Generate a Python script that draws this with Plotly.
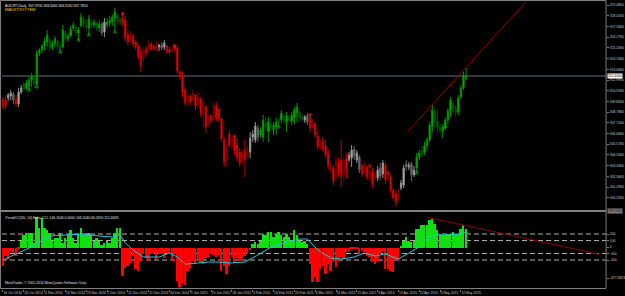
import plotly.graph_objects as go

# ---------------- data ----------------
dates = ["16 Oct 2014", "26 Oct 2014", "4 Nov 2014", "13 Nov 2014", "23 Nov 2014", "2 Dec 2014",
         "11 Dec 2014", "21 Dec 2014", "30 Dec 2014", "9 Jan 2015", "19 Jan 2015", "28 Jan 2015",
         "6 Feb 2015", "16 Feb 2015", "25 Feb 2015", "6 Mar 2015", "16 Mar 2015", "25 Mar 2015",
         "3 Apr 2015", "13 Apr 2015", "22 Apr 2015", "3 May 2015", "12 May 2015"]
date_bars = [0, 8, 16, 24, 32, 40, 48, 56, 64, 72, 80, 88, 96, 104, 112, 120, 128, 136, 144, 152, 160, 168, 176]

opens = [
    310.1, 310.0, 310.2, 310.4, 310.6, 310.1, 309.6, 310.8, 311.6, 311.2,
    311.4, 312.0, 312.3, 311.6, 314.7, 315.0, 315.4, 315.8, 316.0, 315.3,
    315.6, 315.9, 315.3, 315.3, 316.8, 316.1, 316.5, 317.2, 317.3, 316.7,
    317.4, 318.1, 317.5, 317.2, 317.8, 317.5, 317.7, 317.2, 317.6, 316.8,
    317.5, 317.7, 317.9, 318.2, 318.5, 318.0, 318.2, 318.0, 316.5, 316.1,
    316.4, 315.8, 315.4, 314.8, 314.2, 315.1, 315.0, 315.6, 315.4, 315.0,
    315.3, 315.5, 315.3, 315.4, 315.1, 314.9, 315.4, 315.2, 312.8, 312.4,
    311.0, 309.6, 310.4, 310.0, 310.5, 309.5, 310.1, 308.6, 309.3, 307.6,
    308.4, 308.0, 309.4, 308.8, 308.1, 306.0, 304.0, 306.6, 305.3, 306.1,
    305.5, 304.8, 303.9, 305.0, 304.3, 304.8, 306.3, 306.0, 307.2, 306.5,
    306.3, 307.7, 307.0, 307.6, 307.0, 307.3, 308.0, 308.0, 308.4, 307.8,
    308.3, 308.0, 308.2, 308.7, 308.8, 308.4, 308.0, 308.4, 308.2, 307.4,
    307.6, 306.4, 305.2, 306.0, 305.4, 304.7, 303.0, 303.2, 302.4, 303.8,
    304.0, 302.4, 304.2, 304.0, 304.2, 305.1, 304.0, 304.3, 303.4, 302.9,
    303.3, 302.0, 302.8, 302.2, 302.2, 303.2, 302.6, 303.5, 302.2, 302.3,
    301.0, 300.6, 300.3, 301.2, 301.5, 303.6, 303.3, 303.6, 302.5, 303.2,
    304.3, 305.0, 304.8, 305.4, 306.0, 307.4, 308.9, 307.9, 307.3, 306.9,
    307.3, 308.0, 308.9, 309.6, 309.2, 308.8, 310.3, 311.2, 312.2]
highs = [
    310.3, 310.5, 310.7, 311.0, 310.8, 310.5, 311.2, 311.5, 311.8, 312.0,
    312.3, 312.7, 312.5, 315.0, 315.2, 315.6, 316.2, 317.0, 316.2, 315.9,
    316.4, 316.0, 315.6, 317.5, 317.0, 316.6, 317.4, 317.8, 317.5, 317.3,
    318.7, 318.4, 318.0, 318.5, 318.0, 318.1, 317.8, 318.0, 317.8, 318.2,
    318.2, 318.4, 318.6, 319.2, 318.6, 318.3, 318.8, 318.4, 316.9, 316.9,
    316.6, 316.0, 315.6, 315.3, 315.3, 315.4, 316.0, 315.8, 315.5, 315.9,
    315.6, 315.8, 316.0, 315.5, 315.3, 315.5, 315.6, 315.4, 313.0, 312.8,
    311.3, 310.7, 310.5, 311.1, 310.6, 310.8, 310.3, 310.2, 309.5, 308.5,
    308.6, 309.8, 309.8, 309.0, 308.3, 306.3, 305.8, 307.0, 306.6, 306.5,
    306.2, 305.2, 305.0, 306.0, 305.5, 306.8, 307.0, 307.8, 307.5, 307.3,
    308.5, 308.3, 308.3, 308.2, 307.8, 308.2, 308.2, 309.0, 308.5, 308.8,
    308.5, 308.8, 309.3, 309.7, 309.0, 308.6, 308.5, 308.7, 308.6, 308.1,
    307.8, 307.0, 306.0, 306.3, 306.0, 305.0, 303.8, 303.5, 304.5, 304.2,
    306.0, 304.5, 304.7, 304.8, 305.5, 305.4, 305.0, 304.5, 303.7, 303.8,
    303.5, 303.2, 303.2, 302.8, 303.4, 303.7, 304.0, 303.8, 302.8, 302.5,
    301.2, 301.0, 301.2, 302.0, 303.5, 304.0, 303.8, 303.8, 303.4, 304.7,
    305.0, 305.4, 305.8, 306.3, 307.8, 309.5, 309.2, 309.0, 307.6, 307.6,
    308.3, 309.2, 310.3, 309.8, 309.5, 310.5, 311.5, 312.8, 313.2]
lows = [
    309.0, 309.0, 309.9, 310.0, 309.6, 309.3, 309.3, 310.6, 310.8, 311.0,
    311.0, 311.3, 311.2, 311.3, 314.4, 314.7, 315.0, 315.3, 314.8, 315.0,
    315.3, 315.0, 314.7, 315.2, 315.7, 315.8, 316.3, 316.9, 316.4, 316.0,
    317.3, 317.2, 317.0, 316.5, 317.2, 317.2, 316.9, 316.8, 316.4, 316.3,
    317.2, 317.3, 317.4, 317.0, 317.6, 317.4, 317.4, 315.8, 315.5, 315.8,
    315.3, 315.0, 314.0, 312.8, 313.7, 314.4, 314.8, 314.9, 314.9, 314.8,
    314.9, 315.0, 315.0, 314.6, 314.6, 314.7, 314.9, 312.6, 312.0, 310.3,
    309.4, 309.3, 309.5, 309.8, 309.0, 309.2, 308.3, 307.2, 306.7, 307.3,
    307.7, 307.7, 307.9, 307.8, 305.8, 303.3, 303.3, 305.2, 305.0, 304.5,
    303.8, 303.3, 303.6, 302.3, 304.0, 304.2, 305.8, 305.7, 305.8, 306.2,
    305.8, 307.0, 305.8, 306.8, 306.5, 306.5, 307.3, 307.7, 307.6, 306.8,
    307.8, 307.5, 307.6, 307.8, 307.7, 307.8, 307.7, 307.5, 306.8, 307.2,
    306.2, 305.0, 305.0, 304.8, 304.2, 303.0, 302.6, 301.5, 302.0, 302.3,
    301.3, 301.8, 302.2, 303.8, 303.3, 304.0, 303.7, 302.7, 302.3, 302.6,
    302.0, 301.7, 301.2, 302.0, 301.9, 302.0, 302.2, 301.6, 302.0, 300.7,
    299.9, 299.3, 300.0, 301.0, 301.2, 302.9, 303.0, 301.9, 302.3, 302.7,
    304.0, 304.2, 304.5, 305.0, 305.8, 306.8, 307.3, 306.7, 306.6, 306.2,
    307.0, 307.6, 308.3, 308.8, 308.3, 308.5, 310.1, 311.0, 312.0]
closes = [
    309.3, 309.4, 310.5, 310.7, 310.0, 309.6, 310.8, 311.2, 311.1, 311.7,
    312.0, 312.4, 311.6, 314.7, 315.0, 315.4, 315.9, 316.5, 315.2, 315.7,
    316.1, 315.3, 315.0, 317.0, 316.1, 316.4, 317.1, 317.5, 316.7, 317.0,
    318.3, 317.6, 317.3, 318.1, 317.5, 317.8, 317.2, 317.6, 316.7, 317.8,
    317.8, 318.0, 318.3, 318.8, 317.9, 317.7, 317.8, 316.2, 315.8, 316.6,
    315.6, 315.3, 314.3, 313.4, 315.0, 314.7, 315.7, 315.1, 315.1, 315.6,
    315.5, 315.2, 315.7, 314.8, 314.8, 315.2, 315.1, 312.9, 312.3, 310.8,
    309.7, 310.4, 309.8, 310.7, 309.4, 310.3, 308.7, 309.8, 307.3, 308.2,
    307.9, 309.5, 308.2, 308.1, 306.1, 303.8, 305.4, 305.5, 306.2, 304.9,
    304.2, 303.7, 304.7, 304.0, 305.1, 306.2, 306.6, 307.4, 306.3, 307.0,
    308.0, 307.3, 307.8, 307.2, 307.5, 307.8, 307.5, 308.7, 307.9, 308.4,
    308.0, 308.5, 309.0, 309.3, 308.2, 308.0, 308.3, 307.8, 307.2, 307.9,
    306.5, 305.3, 305.8, 305.1, 304.5, 303.4, 303.5, 301.9, 304.0, 302.8,
    302.5, 304.0, 303.0, 304.5, 305.0, 304.4, 304.7, 303.0, 302.6, 303.5,
    302.3, 302.9, 301.6, 302.6, 303.0, 302.4, 303.7, 302.0, 302.5, 301.0,
    300.2, 299.7, 300.8, 301.7, 303.2, 303.3, 303.5, 302.5, 303.0, 304.3,
    304.7, 304.6, 305.4, 306.0, 307.5, 309.0, 307.8, 307.2, 306.9, 307.3,
    308.0, 308.9, 310.0, 309.1, 308.7, 310.2, 311.2, 312.5, 312.4]
# trend colour of each bar: G = up trend, R = down trend, N = neutral
trend = ("RRNNNRNN"
         "GGGGGGGGGGGGGGGGGGGGGGGGGGGGGG"
         "NN"
         "GGGGGG"
         "RRRRRRRRRRRRRR"
         "NNN"
         "RRRRRRRRRRRRRRRRRRRRRRRRRRRRRRRR"
         "NNNN"
         "GGGGGGGGGGGGGGGGG"
         "NN"
         "RRRRRRRRRRRRRRR"
         "NNNNN"
         "RRRRRR"
         "NNN"
         "RRRRRR"
         "NNNNNN"
         "GGGGGGGGGGGGGGGGGGGG")

green_arrow_bars = [10, 13, 22, 26, 29, 33, 43, 102, 106, 111, 159, 170]
green_arrow_prices = [311.2, 311.5, 315.0, 316.8, 316.2, 316.7, 317.0, 307.2, 307.5, 308.2, 302.9, 307.5]
red_arrow_bars = [46, 66, 83, 89, 118, 141, 148]
red_arrow_prices = [318.4, 315.2, 308.8, 306.1, 308.3, 303.2, 302.5]

bid_price = 312.4
price_ticks = [319.486, 318.416, 317.346, 316.276, 315.206, 314.136, 313.066, 311.996, 310.926,
               309.856, 308.786, 307.716, 306.646, 305.576, 304.506, 303.436, 302.366, 301.296, 300.226]
main_trend_bars = [155.4, 201.0]
main_trend_prices = [306.8, 319.8]

cci_hist = [
    -277, -123, -170, -46, -77, -123, -15, 108, 185, 216,
    231, 216, 77, 462, 293, 447, 308, 262, 216, 108,
    139, 154, 231, 77, 139, 185, 262, 154, 77, 185,
    293, 185, 185, 216, 185, 108, 154, 108, 46, 77,
    108, 77, 154, 216, 293, 308, -431, -308, -277, -231,
    -123, -323, -354, -200, -92, -154, -200, -92, -77, -170,
    -92, -92, -154, -77, -77, -200, -92, -508, -600, -540,
    -580, -354, -308, -200, -246, -185, -240, -260, -154, -150,
    -92, -120, -140, -110, -354, -277, -400, -277, -150, -231,
    -154, -200, -154, -130, -77, -31, 57, 82, 57, 108,
    211, 185, 236, 236, 159, 211, 236, 185, 159, 211,
    159, 108, 262, 185, 108, 82, 108, 57, -251, -534,
    -457, -534, -328, -277, -405, -251, -354, -200, -303, -200,
    -149, -175, -72, -46, -20, -20, -20, -98, -46, -72,
    -123, -149, -226, -251, -200, -98, -46, -328, -328, -354,
    -380, -175, -200, 31, 108, 159, 108, 82, 108, 288,
    288, 339, 339, 339, 416, 442, 365, 262, 211, 185,
    185, 211, 211, 236, 211, 211, 288, 339, 288]
cyan_bars = [0, 6, 10, 14, 18, 24, 31, 37, 42, 45, 47, 50, 54, 60, 64, 67, 70, 75, 79, 83, 87, 93,
             98, 103, 109, 114, 117, 121, 126, 130, 135, 139, 143, 147, 152, 156, 160, 163, 165, 167,
             171, 175, 178]
cyan_vals = [-200, -92, -15, 77, 169, 185, 200, 169, 154, 185, 62, -46, -154, -154, -92, -154, -262,
             -246, -231, -231, -246, -231, -123, 0, 77, 123, 123, -46, -169, -185, -154, -92, -139,
             -108, -185, -92, 0, 139, 169, 185, 185, 200, 231]
cci_levels = [200, 100, -100, -200]
cci_ticks = [200, 100, 0, -100, -200, -477.0823]
cci_ticktext = ["200", "100", "0", "-100", "-200", "-477.0823"]
ind_trend_bars = [162.5, 229.5]
ind_trend_vals = [462, -115]

# ---------------- layout helpers (pixels -> paper) ----------------
W, H = 625, 296
def px(x):
    return x / W
def py(y):
    return 1 - y / H

X0, X1 = 2, 609
MAIN_TOP, MAIN_BOT = 2, 210
IND_TOP, IND_BOT = 212.5, 288.5
xrange_ = [-0.38, 231.8]
main_range = [299.0, 319.8]
ind_range = [-638, 531]

FONT = "Liberation Sans"
FS = 3.4
TXT = "#c8c8c8"

fig = go.Figure()

styles = {
    "G": dict(inc_fill="#00d000", inc_line="#009000", dec_fill="#006400", dec_line="#005000"),
    "R": dict(inc_fill="#8a0000", inc_line="#700000", dec_fill="#ff1010", dec_line="#c00000"),
    "N": dict(inc_fill="#c8c8c8", inc_line="#909090", dec_fill="#707070", dec_line="#606060"),
}
for cls in ["N", "G", "R"]:
    idx = [i for i, t in enumerate(trend) if t == cls]
    s = styles[cls]
    fig.add_trace(go.Candlestick(
        x=idx,
        open=[opens[i] for i in idx], high=[highs[i] for i in idx],
        low=[lows[i] for i in idx], close=[closes[i] for i in idx],
        increasing=dict(fillcolor=s["inc_fill"], line=dict(color=s["inc_line"], width=1)),
        decreasing=dict(fillcolor=s["dec_fill"], line=dict(color=s["dec_line"], width=1)),
        whiskerwidth=0, showlegend=False, hoverinfo="skip",
        xaxis="x", yaxis="y"))

fig.add_trace(go.Scatter(x=green_arrow_bars, y=green_arrow_prices, mode="markers",
                         marker=dict(symbol="arrow-up-open", size=3, color="#00b000",
                                     line=dict(color="#00b000", width=0.8)),
                         showlegend=False, hoverinfo="skip", xaxis="x", yaxis="y"))
fig.add_trace(go.Scatter(x=red_arrow_bars, y=red_arrow_prices, mode="markers",
                         marker=dict(symbol="arrow-down-open", size=3, color="#e02020",
                                     line=dict(color="#e02020", width=0.8)),
                         showlegend=False, hoverinfo="skip", xaxis="x", yaxis="y"))
fig.add_trace(go.Scatter(x=main_trend_bars, y=main_trend_prices, mode="lines",
                         line=dict(color="#9a0000", width=1), showlegend=False,
                         hoverinfo="skip", xaxis="x", yaxis="y", cliponaxis=True))

# indicator
bar_cols = ["#10e010" if v >= 0 else "#ff0000" for v in cci_hist]
fig.add_trace(go.Bar(x=list(range(len(cci_hist))), y=cci_hist, marker=dict(color=bar_cols, line=dict(width=0)),
                     width=0.72, showlegend=False, hoverinfo="skip", xaxis="x2", yaxis="y2"))
fig.add_trace(go.Scatter(x=cyan_bars, y=cyan_vals, mode="lines", line=dict(color="#20c8d8", width=1),
                         showlegend=False, hoverinfo="skip", xaxis="x2", yaxis="y2"))
fig.add_trace(go.Scatter(x=ind_trend_bars, y=ind_trend_vals, mode="lines", line=dict(color="#8a0000", width=1),
                         showlegend=False, hoverinfo="skip", xaxis="x2", yaxis="y2"))

shapes = []
for lv in cci_levels:
    shapes.append(dict(type="line", xref="paper", yref="y2", x0=px(X0), x1=px(X1), y0=lv, y1=lv,
                       line=dict(color="#b0b0b0", width=1, dash="5px,3px"), layer="below"))
shapes.append(dict(type="line", xref="paper", yref="y", x0=px(X0), x1=px(X1), y0=bid_price, y1=bid_price,
                   line=dict(color="#687078", width=1), layer="below"))
# separator bar between panels
shapes.append(dict(type="rect", xref="paper", yref="paper", x0=px(0), x1=px(X1), y0=py(212), y1=py(210),
                   fillcolor="#808080", line=dict(width=0)))
# frames
shapes.append(dict(type="line", xref="paper", yref="paper", x0=px(0.5), x1=px(X1), y0=py(0.5), y1=py(0.5),
                   line=dict(color="#808080", width=1)))
shapes.append(dict(type="line", xref="paper", yref="paper", x0=px(0.5), x1=px(0.5), y0=py(IND_BOT), y1=py(0.5),
                   line=dict(color="#808080", width=1)))
shapes.append(dict(type="line", xref="paper", yref="paper", x0=px(X1), x1=px(X1), y0=py(IND_BOT), y1=py(0.5),
                   line=dict(color="#808080", width=1)))
shapes.append(dict(type="line", xref="paper", yref="paper", x0=px(0.5), x1=px(X1), y0=py(IND_BOT), y1=py(IND_BOT),
                   line=dict(color="#808080", width=1)))

annotations = [
    dict(xref="paper", yref="paper", x=px(3), y=py(2.2), xanchor="left", yanchor="top",
         text="AUDJPY,Daily  307.9700 308.5060 306.9130 307.7810", showarrow=False,
         font=dict(family=FONT, size=FS, color="#e8e8e8")),
    dict(xref="paper", yref="paper", x=px(3), y=py(5.4), xanchor="left", yanchor="top",
         text="MADKTSYYTEM", showarrow=False, font=dict(family=FONT, size=FS + 0.6, color="#f0d000")),
    dict(xref="paper", yref="paper", x=px(3), y=py(213.5), xanchor="left", yanchor="top",
         text="iTrendCCI(50, 14) Entry CCI: 146.2040 0.0000 146.2040 66.2490 112.4658", showarrow=False,
         font=dict(family=FONT, size=FS, color="#e0e0e0")),
    dict(xref="paper", yref="paper", x=px(3), y=py(287), xanchor="left", yanchor="bottom",
         text="MetaTrader, © 2001-2014 MetaQuotes Software Corp.", showarrow=False,
         font=dict(family=FONT, size=FS, color="#e0e0e0")),
    dict(xref="paper", yref="y", x=px(X1 + 1), y=bid_price, xanchor="left", yanchor="middle",
         text="%.4f" % bid_price, showarrow=False, bgcolor="#ffffff", borderpad=0,
         font=dict(family=FONT, size=FS, color="#000000")),
    dict(xref="paper", yref="paper", x=px(X1 + 1), y=py(211), xanchor="left", yanchor="middle",
         text="%.4f" % main_range[0], showarrow=False, bgcolor="#808080", borderpad=0,
         font=dict(family=FONT, size=FS, color="#000000")),
]

axis_common = dict(showgrid=False, zeroline=False, showline=False)
fig.update_layout(
    width=W, height=H, margin=dict(l=0, r=0, t=0, b=0),
    paper_bgcolor="#000000", plot_bgcolor="#000000",
    showlegend=False, bargap=0,
    xaxis=dict(domain=[px(X0), px(X1)], range=xrange_, anchor="y", showticklabels=False,
               rangeslider=dict(visible=False), ticks="", **axis_common),
    xaxis2=dict(domain=[px(X0), px(X1)], range=xrange_, anchor="y2", tickvals=date_bars, ticktext=dates,
                tickangle=0, ticklabelposition="outside right", ticks="outside", ticklen=2,
                tickcolor="#808080", tickfont=dict(family=FONT, size=FS, color=TXT), **axis_common),
    yaxis=dict(domain=[py(MAIN_BOT), py(MAIN_TOP)], range=main_range, anchor="x", side="right",
               tickvals=price_ticks, tickformat=".4f", ticks="outside", ticklen=2, tickcolor="#808080",
               tickfont=dict(family=FONT, size=FS, color=TXT), **axis_common),
    yaxis2=dict(domain=[py(IND_BOT), py(IND_TOP)], range=ind_range, anchor="x2", side="right",
                tickvals=cci_ticks, ticktext=cci_ticktext, ticks="outside", ticklen=2, tickcolor="#808080",
                tickfont=dict(family=FONT, size=FS, color=TXT), **axis_common),
    shapes=shapes, annotations=annotations,
)

fig.write_html("out.html")
